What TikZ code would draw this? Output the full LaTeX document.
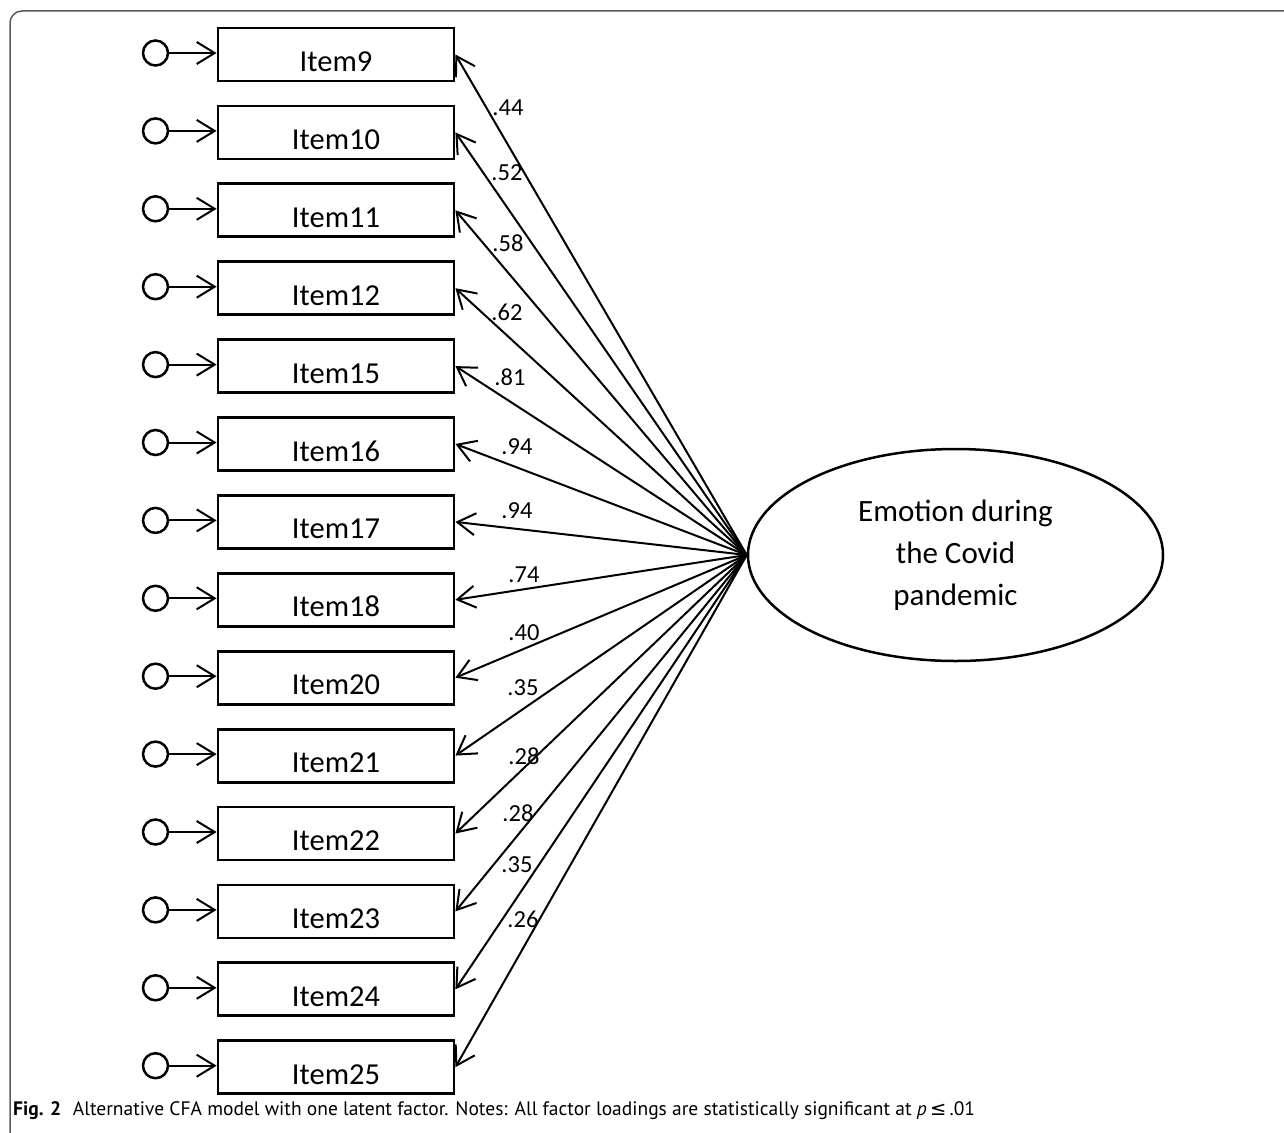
\documentclass[tikz,border=0pt]{standalone}
\usepackage{fontspec}
\setmainfont{Carlito}
\newfontfamily\capfont{PT Sans}
\newfontfamily\symfont{DejaVu Sans}
\usetikzlibrary{arrows.meta,shapes.geometric}
\begin{document}
\begin{tikzpicture}[x=1pt,y=-1pt,
  itembox/.style={draw, line width=2.8pt, minimum width=236pt, minimum height=53pt, inner sep=0pt,
    font=\fontsize{30.5}{36}\selectfont, text height=34pt, text depth=0pt},
  errc/.style={draw, circle, line width=2.5pt, minimum size=25pt, inner sep=0pt},
  latent/.style={draw, ellipse, line width=2.5pt, minimum width=415pt, minimum height=212pt,
    inner sep=0pt, align=center, font=\fontsize{31}{42}\selectfont},
  conn/.style={-{Straight Barb[length=18pt,width=22pt,line width=2pt]}, line width=2pt},
  lbl/.style={font=\fontsize{24.5}{28}\selectfont, inner sep=0pt}
]
\useasboundingbox (0,0) rectangle (1284,1132);
\begin{scope}
\clip (0,0) rectangle (1284,1132);
\draw[line width=1.5pt, color=black!65, rounded corners=12pt] (10,1160) -- (10,11) -- (1300,11);
\end{scope}

\node[latent] (lat) at (955.5,555) {Emotion during\\the Covid\\pandemic};

\foreach \n/\l/\lx/\ly [count=\i from 0] in {
  9/.44/508/108, 10/.52/507/173, 11/.58/508/243, 12/.62/507/312,
  15/.81/510/377, 16/.94/517/447, 17/.94/517/511, 18/.74/524/575,
  20/.40/524/633, 21/.35/523/688, 22/.28/524/756, 23/.28/518/813,
  24/.35/517/865, 25/.26/523/919} {
  \node[itembox] (b\n) at (336,{54.5+77.9*\i}) {Item\n};
  \node[errc] (e\n) at (155.5,{53+77.9*\i}) {};
  \draw[conn] (e\n.east) -- (e\n.east -| b\n.west);
  \draw[conn] (lat.west) -- (b\n.east);
  \node[lbl] (l\n) at (\lx,\ly) {\l};
}

\node[anchor=west, inner sep=0pt, font=\capfont\fontsize{19.5}{22}\selectfont] (cap) at (13,1111)
  {\textbf{Fig. 2}\hspace{0.6em}Alternative CFA model with one latent factor. Notes: All factor loadings are statistically significant at \textit{p}\,{\symfont ≤}\,.01};
\end{tikzpicture}
\end{document}
